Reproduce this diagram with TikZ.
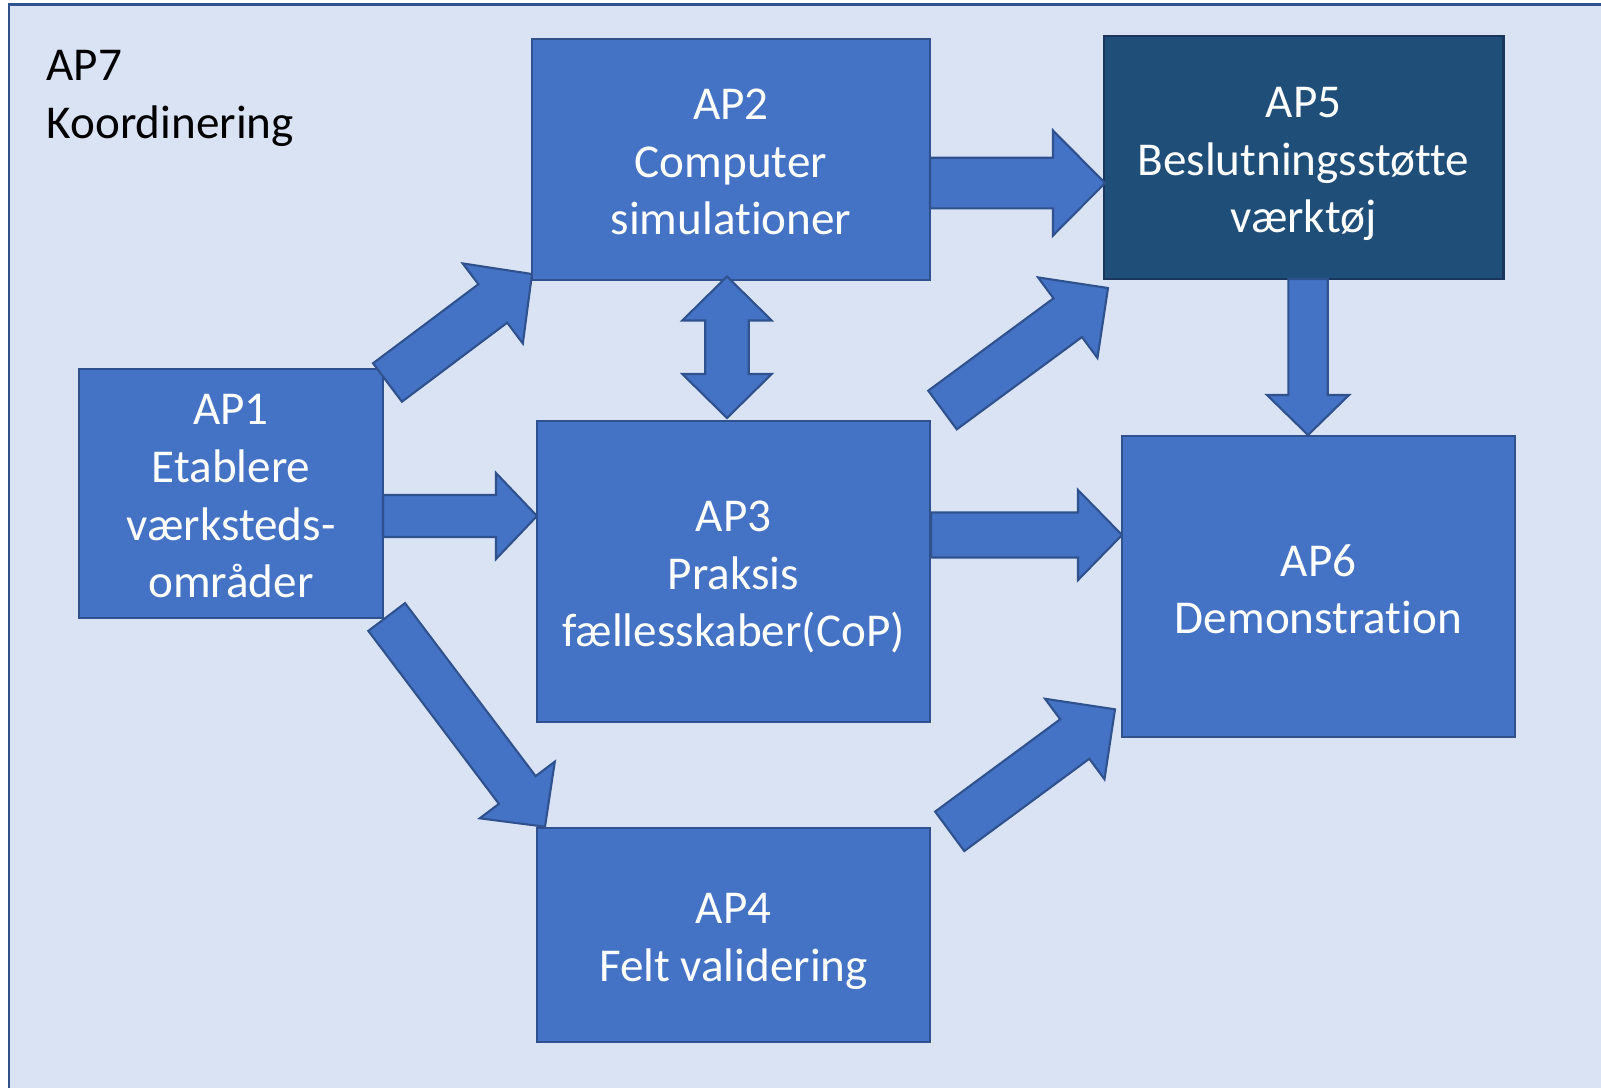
\documentclass[tikz,border=0pt]{standalone}
\usepackage{fontspec}
\setmainfont{Carlito}[RawFeature={-liga;-clig;-calt;-dlig}]
\usetikzlibrary{calc}
\definecolor{bgblue}{HTML}{DAE3F3}
\definecolor{boxblue}{HTML}{4472C4}
\definecolor{edgeblue}{HTML}{2F528F}
\definecolor{darkbox}{HTML}{1F4E79}
\definecolor{darkedge}{HTML}{1B365D}
\tikzset{
  wpbox/.style={draw=edgeblue, line width=0.6pt, fill=boxblue, text=white, align=center,
    inner sep=0pt, text depth=0pt, font=\fontsize{13.4}{16.4}\selectfont},
  darkwp/.style={wpbox, fill=darkbox, draw=darkedge, line width=0.8pt},
  arrowshape/.style={draw=edgeblue, line width=0.6pt, fill=boxblue, line join=miter},
}
% tail, tip, shaft half width, head half width, head length
\newcommand{\blockarrow}[5]{%
  \coordinate (ba-base) at ($(#2)!#5!(#1)$);
  \draw[arrowshape] ($(#1)!#3!90:(#2)$) -- ($(ba-base)!#3!90:(#2)$) -- ($(ba-base)!#4!90:(#2)$)
    -- (#2) -- ($(ba-base)!#4!-90:(#2)$) -- ($(ba-base)!#3!-90:(#2)$) -- ($(#1)!#3!-90:(#2)$) -- cycle;
}
\newcommand{\doubleblockarrow}[5]{%
  \coordinate (db-a) at ($(#1)!#5!(#2)$);
  \coordinate (db-b) at ($(#2)!#5!(#1)$);
  \draw[arrowshape] (#1) -- ($(db-a)!#4!90:(#2)$) -- ($(db-a)!#3!90:(#2)$)
    -- ($(db-b)!#3!-90:(#1)$) -- ($(db-b)!#4!-90:(#1)$) -- (#2)
    -- ($(db-b)!#4!90:(#1)$) -- ($(db-b)!#3!90:(#1)$)
    -- ($(db-a)!#3!-90:(#2)$) -- ($(db-a)!#4!-90:(#2)$) -- cycle;
}
\begin{document}
\begin{tikzpicture}[x=0.01cm, y=-0.01cm]
\useasboundingbox (0,0) rectangle (1601,1087);
\fill[white] (0,0) rectangle (1601,1087);
\draw[draw=edgeblue, line width=0.8pt, fill=bgblue] (9,4.5) rectangle (1640,1120);

\node[anchor=north west, inner sep=0pt, align=left, font=\fontsize{13.4}{16.4}\selectfont]
  (ap7) at (46,50) {AP7\\Koordinering};

\node[wpbox, minimum width=3.98cm, minimum height=2.41cm] (ap2) at (731,159.5) {};
\node[darkwp, minimum width=3.99cm, minimum height=2.43cm] (ap5) at (1303.5,157.5) {};
\node[wpbox, minimum width=3.04cm, minimum height=2.49cm] (ap1) at (231,493.5) {};
\node[wpbox, minimum width=3.93cm, minimum height=3.01cm] (ap3) at (733.5,571.5) {};
\node[wpbox, minimum width=3.93cm, minimum height=3.01cm] (ap6) at (1318.5,586.5) {};
\node[wpbox, minimum width=3.93cm, minimum height=2.14cm] (ap4) at (733.5,935) {};
\tikzset{boxtext/.style={text=white, align=center, inner sep=0pt, text depth=0pt,
    font=\fontsize{13.4}{16.4}\selectfont, yshift=-0.025cm}}
\node[boxtext] (t2) at (ap2.center) {AP2\\Computer\\simulationer};
\node[boxtext] (t5) at (ap5.center) {AP5\\Beslutningsstøtte\\værktøj};
\node[boxtext] (t1) at (ap1.center) {AP1\\Etablere\\værksteds-\\områder};
\node[boxtext] (t3) at (ap3.center) {AP3\\Praksis\\fællesskaber(CoP)};
\node[boxtext] (t6) at (ap6.center) {AP6\\Demonstration};
\node[boxtext] (t4) at (ap4.center) {AP4\\Felt validering};

% connector end points
\coordinate (a12s) at (387.5,382.5);  \coordinate (a12e) at (532,274);
\coordinate (a25s) at (930,183);      \coordinate (a25e) at (1105,183);
\coordinate (a35s) at (942.5,410);    \coordinate (a35e) at (1108,288);
\coordinate (a13s) at (383,516);      \coordinate (a13e) at (537,516);
\coordinate (a36s) at (931,535);      \coordinate (a36e) at (1122,535);
\coordinate (a56s) at (1308,279);     \coordinate (a56e) at (1308,435);
\coordinate (a23s) at (727,276.5);    \coordinate (a23e) at (727,418);
\coordinate (a14s) at (386.7,617);    \coordinate (a14e) at (545,826.7);
\coordinate (a46s) at (949.7,831.3);  \coordinate (a46e) at (1115,709.3);

\blockarrow{a12s}{a12e}{0.24cm}{0.50cm}{0.49cm}
\blockarrow{a25s}{a25e}{0.253cm}{0.525cm}{0.52cm}
\blockarrow{a35s}{a35e}{0.24cm}{0.50cm}{0.50cm}
\blockarrow{a13s}{a13e}{0.21cm}{0.43cm}{0.41cm}
\blockarrow{a36s}{a36e}{0.225cm}{0.45cm}{0.44cm}
\blockarrow{a56s}{a56e}{0.197cm}{0.41cm}{0.40cm}
\doubleblockarrow{a23s}{a23e}{0.217cm}{0.447cm}{0.44cm}
\blockarrow{a14s}{a14e}{0.23cm}{0.47cm}{0.46cm}
\blockarrow{a46s}{a46e}{0.245cm}{0.50cm}{0.50cm}
\end{tikzpicture}
\end{document}
